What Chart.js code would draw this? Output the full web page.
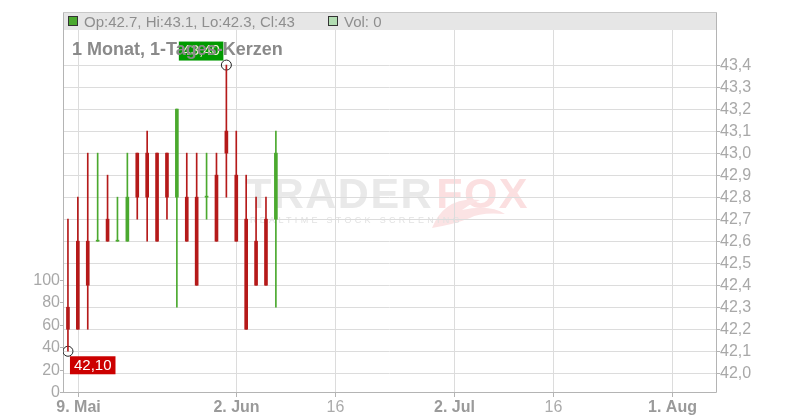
<!DOCTYPE html>
<html><head><meta charset="utf-8">
<script src="https://cdn.jsdelivr.net/npm/chart.js@4/dist/chart.umd.min.js"></script>
<style>html,body{margin:0;padding:0;background:#fff}#wrap{width:800px;height:420px}</style>
</head><body><div id="wrap"><canvas id="c" width="800" height="420"></canvas></div>
<script>
// ---- data (daily candles, 8. Mai .. 6. Jun) ----
const opens  = [42.3,42.6,42.6,42.6,42.7,42.6,42.6,43.0,43.0,43.0,43.0,42.8,42.8,42.8,42.8,42.9,43.1,42.9,42.7,42.6,42.7,42.7];
const highs  = [42.7,42.8,43.0,43.0,42.9,42.8,43.0,43.0,43.1,43.0,43.0,43.2,43.0,43.0,43.0,43.0,43.4,43.1,42.9,42.8,42.8,43.1];
const lows   = [42.1,42.2,42.2,42.6,42.6,42.6,42.6,42.7,42.6,42.6,42.7,42.3,42.6,42.4,42.7,42.6,42.8,42.6,42.2,42.4,42.4,42.3];
const closes = [42.2,42.2,42.4,42.6,42.6,42.6,42.8,42.8,42.8,42.6,42.8,43.2,42.6,42.4,42.8,42.6,43.0,42.6,42.2,42.4,42.4,43.0];
const volumes = [0,0,0,0,0,0,0,0,0,0,0,0,0,0,0,0,0,0,0,0,0,0];
// x tick positions (trading-day index) and labels
const xTickPos    = [1,17,27,39,49,61];
const xTickLabels = ['9. Mai','2. Jun','16','2. Jul','16','1. Aug'];
const priceTicks  = [42.0,42.1,42.2,42.3,42.4,42.5,42.6,42.7,42.8,42.9,43.0,43.1,43.2,43.3,43.4];
const volTicks    = [0,20,40,60,80,100];
const titleText   = '1 Monat, 1-Tages-Kerzen';

const FONT = '"Liberation Sans", Arial, sans-serif';
const RED = '#b51a1a', GREEN = '#4ba92f';
const GRID = '#dcdcdc', AXIS = '#b4b4b4', LABEL = '#a8a8a8';
const idx = opens.map((_, i) => i);
const colors = idx.map(i => closes[i] >= opens[i] ? GREEN : RED);
const maxHigh = Math.max(...highs), hiIdx = highs.indexOf(maxHigh);
const minLow = Math.min(...lows), loIdx = lows.indexOf(minLow);
const last = opens.length - 1;
const fmt2 = v => v.toFixed(2).replace('.', ',');

function line(ctx, x1, y1, x2, y2, color) {
  ctx.strokeStyle = color;
  ctx.beginPath(); ctx.moveTo(x1, y1); ctx.lineTo(x2, y2); ctx.stroke();
}

const overlay = {
  id: 'overlay',
  beforeDatasetsDraw(chart) {
    const ctx = chart.ctx, xs = chart.scales.x, ys = chart.scales.y, yv = chart.scales.yVol, a = chart.chartArea;
    ctx.save();
    // watermark
    ctx.textBaseline = 'alphabetic';
    ctx.textAlign = 'left';
    ctx.font = 'bold 43px ' + FONT;
    ctx.letterSpacing = '1.5px';
    ctx.fillStyle = '#e9e9e9';
    ctx.fillText('TRADER', 245, 208);
    const w = ctx.measureText('TRADER').width;
    ctx.fillStyle = '#fbdfe0';
    ctx.fillText('FOX', 245 + w + 3, 208);
    ctx.fillStyle = '#fbe3e4';
    ctx.beginPath();
    ctx.moveTo(432, 228);
    ctx.quadraticCurveTo(445, 196, 480, 200);
    ctx.quadraticCurveTo(470, 204, 462, 210);
    ctx.quadraticCurveTo(490, 204, 505, 214);
    ctx.quadraticCurveTo(480, 212, 470, 218);
    ctx.quadraticCurveTo(455, 224, 432, 228);
    ctx.closePath();
    ctx.fill();
    ctx.font = '9px ' + FONT;
    ctx.letterSpacing = '3.3px';
    ctx.fillStyle = '#e2e2e2';
    ctx.fillText('REALTIME STOCK SCREENING', 250, 223);
    ctx.letterSpacing = '0px';
    // grid, ticks, labels
    ctx.lineWidth = 1;
    ctx.font = '16px ' + FONT;
    ctx.textBaseline = 'middle';
    ctx.textAlign = 'left';
    priceTicks.forEach(v => {
      const py = Math.round(ys.getPixelForValue(v)) + 0.5;
      line(ctx, a.left, py, a.right, py, GRID);
      line(ctx, a.right, py, a.right + 4, py, AXIS);
      ctx.fillStyle = LABEL;
      ctx.fillText(v.toFixed(1).replace('.', ','), a.right + 4, py);
    });
    ctx.textAlign = 'right';
    volTicks.forEach(v => {
      const py = Math.round(yv.getPixelForValue(v)) + 0.5;
      line(ctx, a.left - 3, py, a.left + 1, py, AXIS);
      ctx.fillStyle = LABEL;
      ctx.fillText(String(v), a.left - 3, py);
    });
    ctx.textAlign = 'center';
    ctx.textBaseline = 'alphabetic';
    xTickPos.forEach((v, i) => {
      const px = Math.round(xs.getPixelForValue(v)) + 0.5;
      line(ctx, px, a.top, px, a.bottom, GRID);
      line(ctx, px, a.bottom, px, a.bottom + 5, AXIS);
      const plain = xTickLabels[i] === '16';
      ctx.font = (plain ? '' : 'bold ') + '16px ' + FONT;
      ctx.fillStyle = plain ? '#ababab' : '#9a9a9a';
      ctx.fillText(xTickLabels[i], px, a.bottom + 20);
    });
    // axis lines
    const L = Math.round(a.left) + 0.5, R = Math.round(a.right) + 0.5, B = Math.round(a.bottom) + 0.5;
    line(ctx, L, a.top, L, B, AXIS);
    line(ctx, R, a.top, R, B, AXIS);
    line(ctx, L, B, R, B, AXIS);
    ctx.restore();
  },
  afterDatasetsDraw(chart) {
    const ctx = chart.ctx, xs = chart.scales.x, ys = chart.scales.y;
    ctx.save();
    ctx.font = '15px ' + FONT;
    ctx.textBaseline = 'middle';
    ctx.textAlign = 'left';
    let px = xs.getPixelForValue(hiIdx), py = ys.getPixelForValue(maxHigh);
    let t = fmt2(maxHigh), tw = ctx.measureText(t).width;
    ctx.fillStyle = '#009a00';
    ctx.fillRect(px - 3 - (tw + 7), py - 4.5 - 19, tw + 7, 19);
    ctx.fillStyle = '#f4f4d8';
    ctx.fillText(t, px - 3 - (tw + 7) + 3.5, py - 4.5 - 9.5);
    px = xs.getPixelForValue(loIdx); py = ys.getPixelForValue(minLow);
    t = fmt2(minLow); tw = ctx.measureText(t).width;
    ctx.fillStyle = '#cc0000';
    ctx.fillRect(px + 2, py + 5, tw + 8, 18);
    ctx.fillStyle = '#ffffff';
    ctx.fillText(t, px + 6, py + 14.5);
    ctx.restore();
  },
  afterDraw(chart) {
    const ctx = chart.ctx, a = chart.chartArea;
    ctx.save();
    ctx.fillStyle = '#e6e6e6';
    ctx.fillRect(a.left + 1, a.top, a.right - a.left - 1, 18);
    ctx.lineWidth = 1;
    line(ctx, a.left, a.top + 0.5, a.right + 1, a.top + 0.5, '#c8c8c8');
    ctx.fillStyle = GREEN; ctx.fillRect(68.5, 16.5, 9, 9);
    ctx.strokeStyle = '#333'; ctx.strokeRect(68.5, 16.5, 9, 9);
    ctx.fillStyle = '#b2ddb2'; ctx.fillRect(328.5, 16.5, 9, 9);
    ctx.strokeRect(328.5, 16.5, 9, 9);
    ctx.font = '15px ' + FONT;
    ctx.textBaseline = 'alphabetic';
    ctx.textAlign = 'left';
    ctx.fillStyle = '#8e8e8e';
    ctx.fillText('Op:' + opens[last] + ', Hi:' + highs[last] + ', Lo:' + lows[last] + ', Cl:' + closes[last], 84, 26.5);
    ctx.fillText('Vol: ' + volumes[last], 344, 26.5);
    ctx.font = 'bold 18px ' + FONT;
    ctx.fillStyle = '#8a8a8a';
    ctx.fillText(titleText, 72, 55);
    ctx.restore();
  }
};

new Chart(document.getElementById('c'), {
  type: 'bar',
  data: {
    datasets: [
      { data: idx.map(i => ({x: i, y: [lows[i], highs[i]]})), yAxisID: 'y', barThickness: 1,
        backgroundColor: colors, borderWidth: 0, grouped: false },
      { data: idx.map(i => ({x: i, y: [opens[i], closes[i]]})), yAxisID: 'y', barThickness: 3, minBarLength: 1,
        backgroundColor: colors, borderWidth: 0, grouped: false },
      { type: 'scatter', data: [{x: hiIdx, y: maxHigh}, {x: loIdx, y: minLow}], yAxisID: 'y',
        pointRadius: 5, borderColor: '#222', borderWidth: 1, backgroundColor: 'rgba(0,0,0,0)' }
    ]
  },
  options: {
    responsive: false, animation: false, devicePixelRatio: 1, events: [],
    layout: { padding: { top: 12, left: 63, right: 84, bottom: 28 } },
    plugins: { legend: { display: false }, tooltip: { enabled: false } },
    scales: {
      x: { type: 'linear', display: false, min: -0.5, max: 65.45, offset: false },
      y: { type: 'linear', display: false, position: 'right', min: 41.915, max: 43.641 },
      yVol: { type: 'linear', display: false, position: 'left', min: 0, max: 338 }
    }
  },
  plugins: [overlay]
});
</script>
</body></html>
